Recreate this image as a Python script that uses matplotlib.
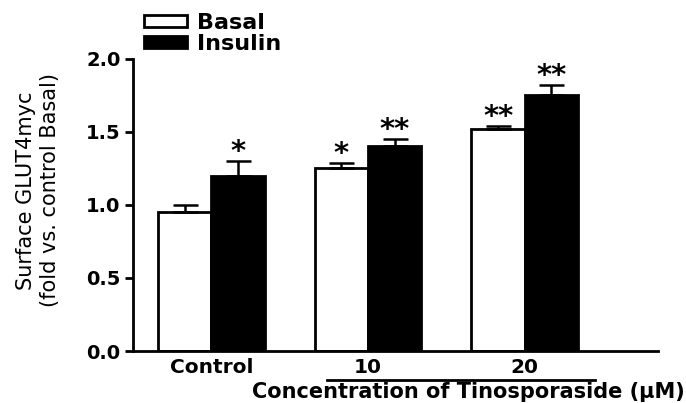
import numpy as np
import matplotlib
matplotlib.use('Agg')
import matplotlib.pyplot as plt
from matplotlib.patches import Patch

# values
groups = ['Control', '10', '20']
basal = [0.95, 1.25, 1.52]
basal_err = [0.05, 0.04, 0.02]
insulin = [1.20, 1.40, 1.75]
insulin_err = [0.10, 0.05, 0.07]
basal_sig = ['', '*', '**']
insulin_sig = ['*', '**', '**']

plt.rcParams['font.family'] = 'DejaVu Sans'
fig = plt.figure(figsize=(6.86, 4.03), dpi=100)
ax = fig.add_axes([0.194, 0.129, 0.765, 0.725])

x = np.arange(len(groups))
w = 0.34
ax.bar(x - w/2, basal, w, color='white', edgecolor='black', linewidth=2,
       yerr=[np.zeros(3), basal_err], capsize=9,
       error_kw=dict(elinewidth=1.8, capthick=1.8, ecolor='black'))
ax.bar(x + w/2, insulin, w, color='black', edgecolor='black', linewidth=2,
       yerr=[np.zeros(3), insulin_err], capsize=9,
       error_kw=dict(elinewidth=1.8, capthick=1.8, ecolor='black'))

for xi, v, e, s in zip(x - w/2, basal, basal_err, basal_sig):
    ax.text(xi, v + e - 0.035, s, ha='center', va='bottom', fontsize=21, fontweight='bold')
for xi, v, e, s in zip(x + w/2, insulin, insulin_err, insulin_sig):
    ax.text(xi, v + e - 0.035, s, ha='center', va='bottom', fontsize=21, fontweight='bold')

ax.set_xlim(-0.5, 2.85)
ax.set_ylim(0, 2.0)
ax.set_yticks([0, 0.5, 1.0, 1.5, 2.0])
ax.set_yticklabels(['0.0', '0.5', '1.0', '1.5', '2.0'], fontweight='bold', fontsize=14)
ax.set_xticks(x)
ax.set_xticklabels(groups, fontweight='bold', fontsize=14.5)
ax.tick_params(axis='x', length=0, pad=5)
ax.tick_params(axis='y', length=6, width=2, pad=3)
for sp in ['top', 'right']:
    ax.spines[sp].set_visible(False)
for sp in ['left', 'bottom']:
    ax.spines[sp].set_linewidth(2)

ax.set_ylabel('Surface GLUT4myc\n(fold vs. control Basal)', fontsize=15, linespacing=1.25)
ax.yaxis.set_label_coords(-0.14, 0.55)

# bracket under the concentrations
tr = ax.get_xaxis_transform()
ax.plot([0.74, 2.45], [-0.098, -0.098], color='black', lw=2, transform=tr, clip_on=False)
ax.text(1.64, -0.14, 'Concentration of Tinosporaside (\u03bcM)', transform=tr,
        ha='center', va='center', fontsize=15, fontweight='bold')

handles = [Patch(facecolor='white', edgecolor='black', linewidth=2, label='Basal'),
           Patch(facecolor='black', edgecolor='black', linewidth=2, label='Insulin')]
leg = fig.legend(handles=handles, loc='upper left', bbox_to_anchor=(0.197, 0.99),
                 frameon=False, prop=dict(weight='bold', size=16),
                 handlelength=1.95, handleheight=0.5, handletextpad=0.45, labelspacing=0.05,
                 borderaxespad=0)

fig.savefig('out.png', dpi=100)
